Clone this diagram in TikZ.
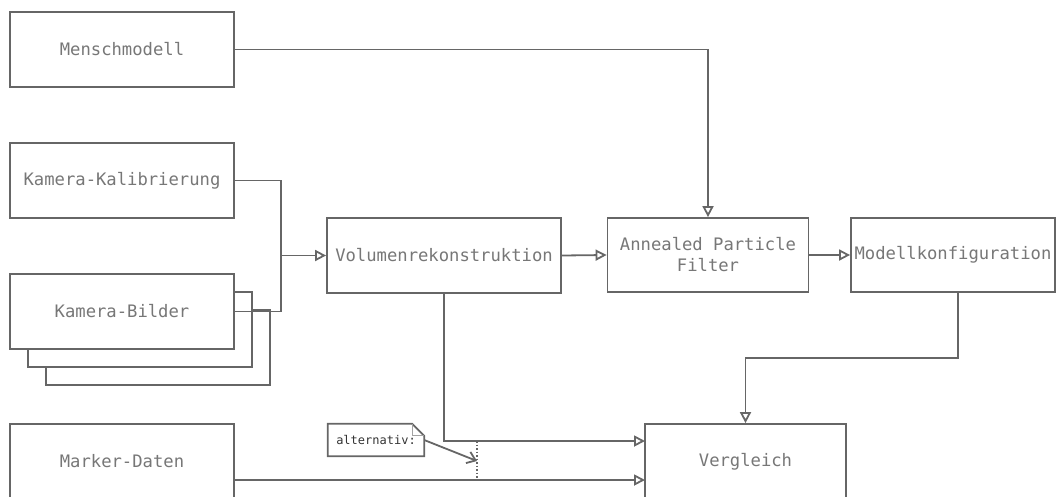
\documentclass[tikz,border=0pt]{standalone}
\usepackage{fontspec}
\newfontfamily\dmono{DejaVu Sans Mono}
\usetikzlibrary{arrows.meta}
\definecolor{lc}{HTML}{666666}
\definecolor{tc}{HTML}{777777}
\begin{document}
\begin{tikzpicture}[x=1pt,y=-1pt,
  box/.style={draw=lc, line width=1.8pt, fill=white, inner sep=0pt, font=\dmono\fontsize{17.2}{21}\selectfont, text=tc, align=center},
  conn/.style={draw=lc, line width=1.8pt},
  arr/.style={conn, -{Triangle[open, length=11pt, width=11pt, line width=1.8pt]}},
]
\useasboundingbox (0,0) rectangle (1057,496);
% nodes
\node[box, minimum width=224pt, minimum height=75pt] (mensch) at (122,49.5) {Menschmodell};
\node[box, minimum width=224pt, minimum height=75pt] (kalib) at (122,180.5) {Kamera-Kalibrierung};
\node[box, minimum width=224pt, minimum height=75pt] (bilder3) at (158,347.5) {};
\node[box, minimum width=224pt, minimum height=75pt] (bilder2) at (140,329.5) {};
\node[box, minimum width=224pt, minimum height=75pt] (bilder) at (122,311.5) {Kamera-Bilder};
\node[box, minimum width=234pt, minimum height=75pt] (volumen) at (444,255.5) {Volumenrekonstruktion};
\node[box, minimum width=201pt, minimum height=74pt] (apf) at (708,255) {Annealed Particle\\Filter};
\node[box, minimum width=204pt, minimum height=74pt] (modell) at (953,255) {Modellkonfiguration};
\node[box, minimum width=201pt, minimum height=75pt] (vergleich) at (745.5,461.5) {Vergleich};
\node[box, minimum width=224pt, minimum height=75pt] (marker) at (122,461.5) {Marker-Daten};
% note
\node[font=\dmono\fontsize{12}{14}\selectfont, text=black!80, minimum width=96pt, minimum height=32pt, inner sep=0pt] (note) at (376,440) {alternativ:};
\draw[lc, line width=1.8pt, line join=miter] (note.north west) -- ([xshift=-12pt]note.north east) -- ([yshift=-12pt]note.north east) -- (note.south east) -- (note.south west) -- cycle;
\draw[lc!60, line width=1pt] ([xshift=-12pt]note.north east) -- ([xshift=-12pt,yshift=-12pt]note.north east) -- ([yshift=-12pt]note.north east);
% coordinates
\coordinate (j) at (281,255.5);
\coordinate (m1) at (958,358);
\coordinate (v1) at (645,441);
\coordinate (v2) at (645,480);
\coordinate (d1) at (477,441);
\coordinate (d2) at (477,480);
\coordinate (dm) at (477,461);
% connectors
\draw[arr] (mensch.east) -| (apf.north);
\draw[conn] (kalib.east) -| (j);
\draw[conn] (bilder.east) -| (j);
\draw[arr] (j) -- (volumen.west);
\draw[arr] (volumen.east) -- (apf.west);
\draw[arr] (apf.east) -- (modell.west);
\draw[arr] (m1 |- modell.south) -- (m1) -| (vergleich.north);
\draw[arr] (volumen.south) |- (v1);
\draw[arr] (marker.east |- v2) -- (v2);
\draw[lc, line width=1.5pt, dotted] (d1) -- (d2);
\draw[conn, -{Straight Barb[length=8pt, width=12pt, line width=1.8pt]}] (note.east) -- (dm);
\end{tikzpicture}
\end{document}
